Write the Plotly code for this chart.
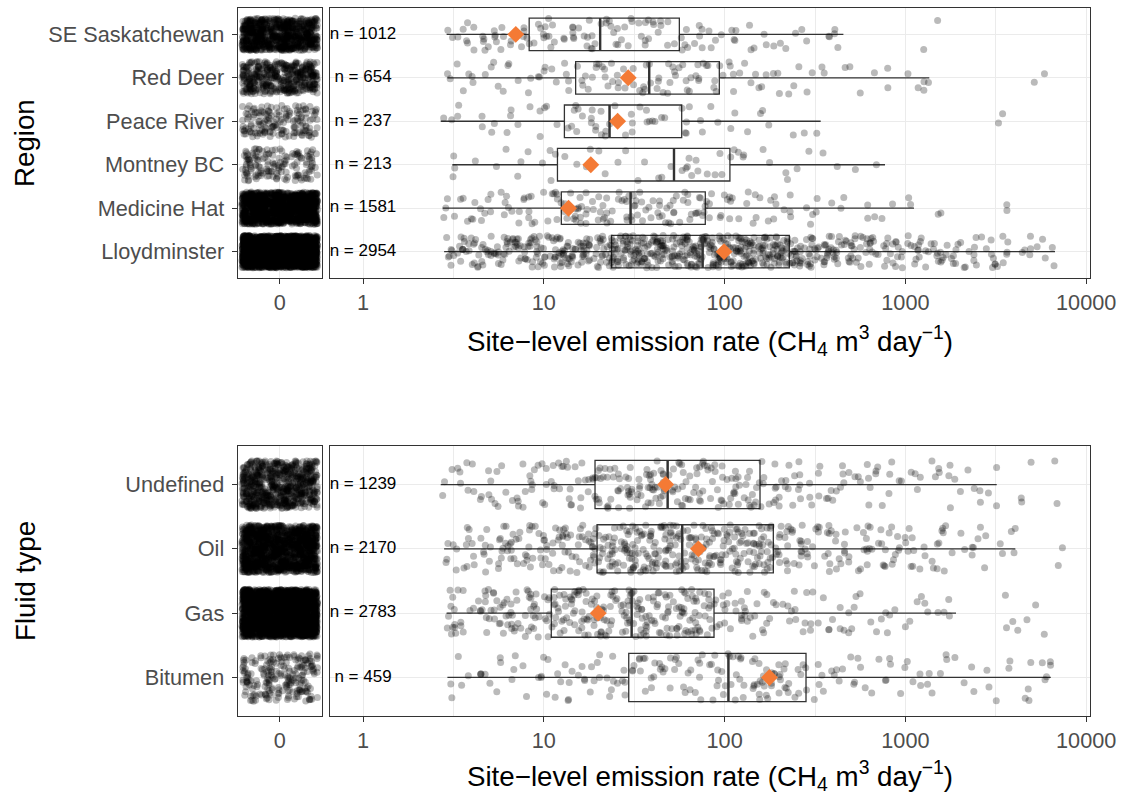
import math
import plotly.graph_objects as go

# ---------------- data ----------------
# categories listed bottom -> top
regions = ["Lloydminster", "Medicine Hat", "Montney BC", "Peace River", "Red Deer", "SE Saskatchewan"]
region_n = [2954, 1581, 213, 237, 654, 1012]
region_q1 = [23.7, 12.5, 11.9, 13.0, 15.0, 8.3]
region_med = [75.6, 30.2, 52.5, 23.1, 38.3, 20.5]
region_q3 = [228, 78.2, 107, 57.9, 93.5, 56.2]
region_lo = [2.81, 2.76, 3.12, 2.69, 2.93, 2.9]
region_hi = [6720, 1116, 771, 340, 1356, 454]
region_mean = [99.3, 13.7, 18.2, 25.6, 29.3, 7.0]
region_zero = [2200, 1300, 150, 160, 420, 800]

fluids = ["Bitumen", "Gas", "Oil", "Undefined"]
fluid_n = [459, 2783, 2170, 1239]
fluid_q1 = [29.5, 11.0, 19.7, 19.2]
fluid_med = [105, 30.6, 58.3, 48.4]
fluid_q3 = [282, 87.4, 186, 157]
fluid_lo = [2.93, 2.9, 2.81, 2.69]
fluid_hi = [6370, 1905, 4055, 3200]
fluid_mean = [177, 20.0, 71.6, 47.2]
fluid_zero = [220, 2300, 1400, 700]

# counts of non-zero sites per log10 bin: bins start at 10^0.4, width 0.1 decade (35 bins)
BIN_START = 0.4
BIN_STEP = 0.1
region_hist = [
    [6,14,16,18,20,22,22,24,24,30,34,35,35,36,36,36,36,36,36,32,24,20,18,16,14,12,12,11,10,9,8,6,5,3,2],
    [3,5,6,6,6,7,8,10,10,11,11,10,10,10,10,7,6,6,5,4,3,3,2,2,2,1,2,2,0,0,0,2,0,0,0],
    [1,2,1,2,2,2,3,2,2,2,2,2,2,4,4,4,3,2,2,2,2,1,1,1,1,0,0,0,0,0,0,0,0,0,0],
    [2,2,2,3,3,3,3,6,6,6,4,4,4,4,3,2,2,2,2,1,1,1,0,0,0,0,0,0,0,0,0,2,0,0,0],
    [2,3,3,4,3,4,4,5,7,7,7,7,7,7,7,7,5,4,4,3,3,2,2,1,1,2,2,3,0,0,0,0,0,2,0],
    [2,5,7,7,6,6,8,8,8,7,7,7,7,6,5,4,4,3,3,3,2,2,3,0,0,0,0,2,0,0,0,0,0,0,0],
]
fluid_hist = [
    [2,3,4,4,4,5,5,6,7,7,8,8,8,8,8,9,11,12,12,11,7,5,5,5,4,4,4,4,3,3,2,3,4,3,2],
    [7,10,12,14,15,17,19,21,21,21,21,21,21,21,21,14,10,9,8,7,6,5,5,4,4,4,3,3,3,0,0,3,2,2,0],
    [4,8,10,12,13,14,15,17,19,26,28,28,28,26,25,25,24,24,21,16,14,12,11,10,10,9,8,7,6,5,4,3,2,0,2],
    [3,5,6,7,7,8,9,10,12,15,17,17,17,16,14,14,13,12,10,9,8,7,6,6,5,5,4,4,4,3,3,2,3,0,2],
]

x_ticks = [1, 10, 100, 1000, 10000]
x_ticktext = ["1", "10", "100", "1000", "10000"]

# ---------------- helpers ----------------
W, H = 1126, 793
JIT = 0.37
FONT = "Liberation Sans, Arial, Helvetica, sans-serif"
PT_COLOR = "rgba(0,0,0,0.27)"
LINE = "#333333"
GRID = "#EBEBEB"
ORANGE = "#F47A35"


def frac(v):
    return v - math.floor(v)


def jit(k, s):
    # deterministic scatter offset in [0, 1) used only for jitter placement
    return frac(math.sin(k * 12.9898 + s * 78.233) * 43758.5453)


def zero_points(counts):
    xs, ys = [], []
    k = 0
    for i, c in enumerate(counts):
        for _ in range(c):
            k += 1
            xs.append((jit(k, 3) - 0.5) * 0.9)
            ys.append(i + 1 + (jit(k, 4) - 0.5) * 2 * JIT)
    return xs, ys


def main_points(hists, lo, hi):
    xs, ys = [], []
    k = 0
    for i, h in enumerate(hists):
        llo = math.log10(lo[i])
        lhi = math.log10(hi[i])
        for b, c in enumerate(h):
            e0 = BIN_START + b * BIN_STEP
            e1 = e0 + BIN_STEP
            a = max(e0, llo) if e0 <= llo < e1 else e0
            z = min(e1, lhi) if e0 <= lhi < e1 else e1
            for _ in range(c):
                k += 1
                xs.append(10 ** (a + jit(k, 1) * (z - a)))
                ys.append(i + 1 + (jit(k, 2) - 0.5) * 2 * JIT)
    return xs, ys


def median_segments(meds):
    xs, ys = [], []
    for i, m in enumerate(meds):
        xs += [m, m, None]
        ys += [i + 1 - 0.375, i + 1 + 0.375, None]
    return xs, ys


fig = go.Figure()


def add_panel(cats, ns, q1, med, q3, lo, hi, mean, zero, hist, xz, yz, xm, ym):
    zx, zy = zero_points(zero)
    fig.add_trace(go.Scatter(x=zx, y=zy, mode="markers", xaxis=xz, yaxis=yz,
                             marker=dict(size=7, color=PT_COLOR, line=dict(width=0)),
                             hoverinfo="skip", showlegend=False))
    px, py = main_points(hist, lo, hi)
    fig.add_trace(go.Scatter(x=px, y=py, mode="markers", xaxis=xm, yaxis=ym,
                             marker=dict(size=7, color=PT_COLOR, line=dict(width=0)),
                             hoverinfo="skip", showlegend=False))
    pos = list(range(1, len(cats) + 1))
    fig.add_trace(go.Box(orientation="h", y=pos, q1=q1, median=med, q3=q3,
                         lowerfence=lo, upperfence=hi, width=0.75,
                         line=dict(color=LINE, width=1.3), fillcolor="rgba(0,0,0,0)",
                         boxpoints=False, whiskerwidth=0, xaxis=xm, yaxis=ym,
                         hoverinfo="skip", showlegend=False))
    mx, my = median_segments(med)
    fig.add_trace(go.Scatter(x=mx, y=my, mode="lines", xaxis=xm, yaxis=ym,
                             line=dict(color=LINE, width=2.4), hoverinfo="skip", showlegend=False))
    fig.add_trace(go.Scatter(x=mean, y=pos, mode="markers", xaxis=xm, yaxis=ym,
                             marker=dict(symbol="diamond", size=13, color=ORANGE, line=dict(width=0)),
                             hoverinfo="skip", showlegend=False))
    fig.add_trace(go.Scatter(x=[1] * len(cats), y=pos, mode="text", xaxis=xm, yaxis=ym,
                             text=["n = %d" % n for n in ns], textposition="middle center",
                             textfont=dict(family=FONT, size=17, color="black"),
                             hoverinfo="skip", showlegend=False))


add_panel(regions, region_n, region_q1, region_med, region_q3, region_lo, region_hi,
          region_mean, region_zero, region_hist, "x", "y", "x2", "y2")
add_panel(fluids, fluid_n, fluid_q1, fluid_med, fluid_q3, fluid_lo, fluid_hi,
          fluid_mean, fluid_zero, fluid_hist, "x3", "y3", "x4", "y4")

# ---------------- layout ----------------
def px_x(a, b):
    return [a / W, b / W]


def px_y(top, bottom):
    return [1 - bottom / H, 1 - top / H]


tickfont = dict(family=FONT, size=21.7, color="#4D4D4D")
frame = dict(showline=True, mirror=True, linecolor=LINE, linewidth=1.2,
             gridcolor=GRID, gridwidth=1.4, zeroline=False, automargin=False)

zero_x = dict(range=[-0.5, 0.5], tickmode="array", tickvals=[0], ticktext=["0"],
              ticks="outside", ticklen=5, tickcolor=LINE, tickwidth=1.2,
              tickfont=tickfont, showgrid=True, **frame)
main_x = dict(type="log", range=[-0.1825, 4.021], tickmode="array", tickvals=x_ticks,
              ticktext=x_ticktext, ticks="outside", ticklen=5, tickcolor=LINE, tickwidth=1.2,
              tickfont=tickfont, showgrid=True,
              minor=dict(tickmode="array", tickvals=[3.1623, 31.623, 316.23, 3162.3],
                         showgrid=True, gridcolor=GRID, gridwidth=0.8, ticks=""),
              **frame)

top_dom = px_y(8.3, 277.7)
bot_dom = px_y(446, 716)

fig.update_layout(
    template="none",
    width=W, height=H, autosize=False, margin=dict(l=0, r=0, t=0, b=0, pad=0),
    paper_bgcolor="white", plot_bgcolor="white", showlegend=False,
    font=dict(family=FONT, color="black"),
    xaxis=dict(domain=px_x(237.7, 321.7), anchor="y", **zero_x),
    yaxis=dict(domain=top_dom, anchor="x", range=[0.4, 6.6], tickmode="array",
               tickvals=list(range(1, 7)), ticktext=regions, ticks="outside", ticklen=5,
               tickcolor=LINE, tickwidth=1.2, tickfont=tickfont, ticklabelstandoff=3,
               showgrid=True, **frame),
    xaxis2=dict(domain=px_x(330, 1090), anchor="y2", **main_x),
    yaxis2=dict(domain=top_dom, anchor="x2", range=[0.4, 6.6], tickmode="array",
                tickvals=list(range(1, 7)), showticklabels=False, ticks="", showgrid=True, **frame),
    xaxis3=dict(domain=px_x(237.7, 321.7), anchor="y3", **zero_x),
    yaxis3=dict(domain=bot_dom, anchor="x3", range=[0.4, 4.6], tickmode="array",
                tickvals=list(range(1, 5)), ticktext=fluids, ticks="outside", ticklen=5,
                tickcolor=LINE, tickwidth=1.2, tickfont=tickfont, ticklabelstandoff=3,
                showgrid=True, **frame),
    xaxis4=dict(domain=px_x(330, 1090), anchor="y4", **main_x),
    yaxis4=dict(domain=bot_dom, anchor="x4", range=[0.4, 4.6], tickmode="array",
                tickvals=list(range(1, 5)), showticklabels=False, ticks="", showgrid=True, **frame),
)

xtitle = "Site\u2212level emission rate (CH<sub>4</sub> m<sup>3</sup> day<sup>\u22121</sup>)"
title_font = dict(family=FONT, size=27.7, color="black")
annotations = [
    dict(text=xtitle, x=710 / W, y=1 - 340 / H, xref="paper", yref="paper",
         xanchor="center", yanchor="middle", showarrow=False, font=title_font),
    dict(text=xtitle, x=710 / W, y=1 - 775 / H, xref="paper", yref="paper",
         xanchor="center", yanchor="middle", showarrow=False, font=title_font),
    dict(text="Region", x=25 / W, y=1 - 143 / H, xref="paper", yref="paper", textangle=-90,
         xanchor="center", yanchor="middle", showarrow=False, font=title_font),
    dict(text="Fluid type", x=25 / W, y=1 - 581 / H, xref="paper", yref="paper", textangle=-90,
         xanchor="center", yanchor="middle", showarrow=False, font=title_font),
]
fig.update_layout(annotations=annotations)

post_js = (
    "document.body.style.margin='0';"
    "document.body.style.padding='0';"
    "document.body.style.overflow='hidden';"
    "var gd=document.getElementById('{plot_id}');"
    "Plotly.relayout(gd,{width:1126,height:793});"
)
fig.write_html("out.html", config={"responsive": False, "displayModeBar": False},
               post_script=post_js)
